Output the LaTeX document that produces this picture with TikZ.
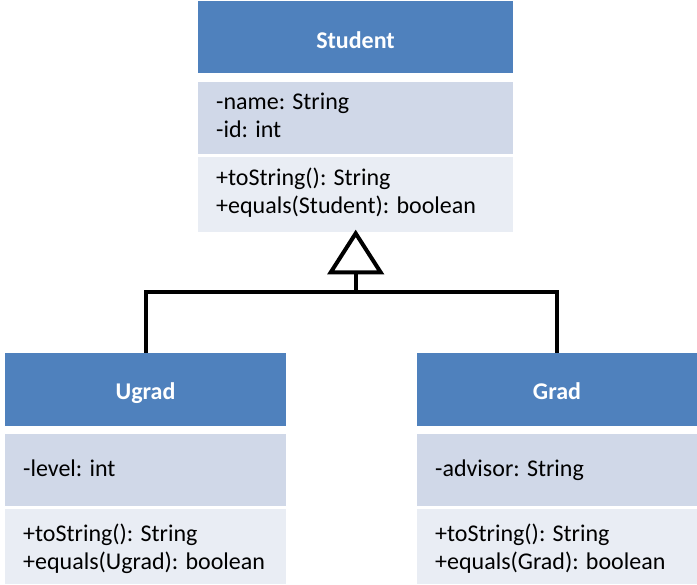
\documentclass[tikz,border=0pt]{standalone}
\usepackage{fontspec}
\setmainfont{Carlito}
\usetikzlibrary{calc}
\definecolor{hdr}{HTML}{4F81BD}
\definecolor{attrc}{HTML}{D0D8E8}
\definecolor{methc}{HTML}{E9EDF4}
\begin{document}
\begin{tikzpicture}[x=1pt,y=-1pt,
  box/.style={draw=none, inner sep=0pt, anchor=north west},
  hdrbox/.style={box, fill=hdr},
  attrbox/.style={box, fill=attrc},
  methbox/.style={box, fill=methc},
  htext/.style={anchor=base, inner sep=0pt, text=white, font=\fontsize{24}{28}\selectfont\bfseries},
  ltext/.style={anchor=base west, inner sep=0pt, text=black, font=\fontsize{24}{28}\selectfont},
  conn/.style={draw=black, line width=4pt, line join=miter}]
\useasboundingbox (0,0) rectangle (697,585);

% Student
\node[hdrbox, minimum width=315pt, minimum height=72pt] (sh) at (198,1) {};
\node[attrbox, minimum width=315pt, minimum height=72pt] (sa) at (198,82) {};
\node[methbox, minimum width=315pt, minimum height=75pt] (sm) at (198,157) {};
\node[htext] (sht) at (355.5,48.5) {Student};
\node[ltext] (sa1) at (216,110) {-name: String};
\node[ltext] (sa2) at (216,138) {-id: int};
\node[ltext] (sm1) at (216,186) {+toString(): String};
\node[ltext] (sm2) at (216,214) {+equals(Student): boolean};

% Ugrad
\node[hdrbox, minimum width=281pt, minimum height=73pt] (uh) at (5,353) {};
\node[attrbox, minimum width=281pt, minimum height=72pt] (ua) at (5,434) {};
\node[methbox, minimum width=281pt, minimum height=75pt] (um) at (5,509) {};
\node[htext] (uht) at (145.5,400) {Ugrad};
\node[ltext] (ua1) at (23,477) {-level: int};
\node[ltext] (um1) at (23,541) {+toString(): String};
\node[ltext] (um2) at (23,569) {+equals(Ugrad): boolean};

% Grad
\node[hdrbox, minimum width=280pt, minimum height=73pt] (gh) at (417,353) {};
\node[attrbox, minimum width=280pt, minimum height=72pt] (ga) at (417,434) {};
\node[methbox, minimum width=280pt, minimum height=75pt] (gm) at (417,509) {};
\node[htext] (ght) at (557,400) {Grad};
\node[ltext] (ga1) at (435,477) {-advisor: String};
\node[ltext] (gm1) at (435,541) {+toString(): String};
\node[ltext] (gm2) at (435,569) {+equals(Grad): boolean};

% Generalization connector
\coordinate (apex) at ($(sm.south)+(0,1)$);
\coordinate (base) at ($(apex)+(0,39)$);
\coordinate (junc) at ($(apex)+(0,59)$);
\draw[conn] (uh.north) |- (junc) -| (gh.north);
\draw[conn] (junc) -- (base);
\draw[conn, fill=white] (apex) -- ($(apex)+(-25,39)$) -- ($(apex)+(25,39)$) -- cycle;
\end{tikzpicture}
\end{document}
